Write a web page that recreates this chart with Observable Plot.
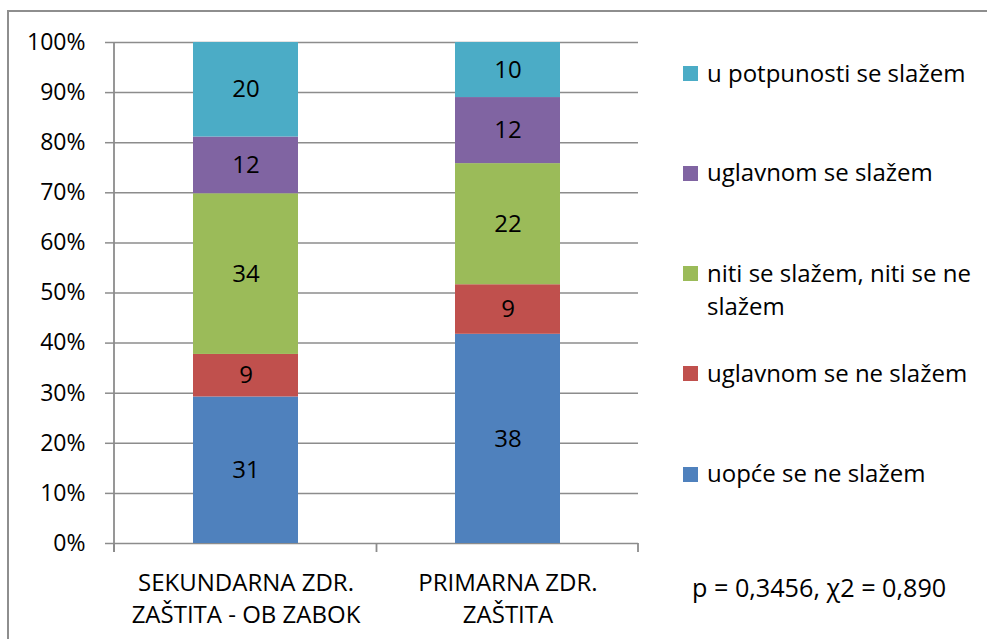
<!DOCTYPE html>
<html><head><meta charset="utf-8">
<script src="https://cdn.jsdelivr.net/npm/d3@7"></script>
<script src="https://cdn.jsdelivr.net/npm/@observablehq/plot@0.6"></script>
<style>
body{margin:0;background:#fff;font-family:"Open Sans",sans-serif;color:#000;}
#wrap{position:relative;width:987px;height:639px;overflow:hidden;background:#fff;}
#border{position:absolute;left:7px;top:10px;width:1000px;height:700px;border-top:2px solid #8e8e8e;border-left:2px solid #8e8e8e;box-sizing:border-box;}
#chart{position:absolute;left:0;top:0;}
.leg{position:absolute;left:683px;font-size:24px;line-height:33px;white-space:nowrap;}
.leg .sw{position:absolute;left:0;top:10.5px;width:15px;height:15px;}
.leg .tx{position:absolute;left:24px;top:0;}
#stat{position:absolute;left:692px;top:571px;font-size:25.2px;line-height:33px;white-space:nowrap;}
</style>
</head><body>
<div id="wrap"><div id="border"></div><div id="chart"></div><div id="legend"></div><div id="stat"></div></div>
<script>
const groups = ["SEKUNDARNA ZDR. ZAŠTITA - OB ZABOK", "PRIMARNA ZDR. ZAŠTITA"];
const tickLabels = ["SEKUNDARNA ZDR.\nZAŠTITA - OB ZABOK", "PRIMARNA ZDR.\nZAŠTITA"];
const categories = ["uopće se ne slažem", "uglavnom se ne slažem", "niti se slažem, niti se ne slažem", "uglavnom se slažem", "u potpunosti se slažem"];
const legendLabels = ["uopće se ne slažem", "uglavnom se ne slažem", "niti se slažem, niti se ne<br>slažem", "uglavnom se slažem", "u potpunosti se slažem"];
const sekundarna = [31, 9, 34, 12, 20];
const primarna = [38, 9, 22, 12, 10];
const colors = ["#4F81BD", "#C0504D", "#9BBB59", "#8064A2", "#4BACC6"];
const yTicks = [0, 0.1, 0.2, 0.3, 0.4, 0.5, 0.6, 0.7, 0.8, 0.9, 1.0];
const statText = "p = 0,3456, χ2 = 0,890";
const gridColor = "#8c8c8c";

const series = [sekundarna, primarna];
const rows = [];
groups.forEach((g, gi) => categories.forEach((c, ci) => rows.push({group: g, category: c, value: series[gi][ci]})));

function axisLines(index, scales, values, dims) {
  const x = scales.x, y = scales.y;
  const bw = typeof x.bandwidth === "function" ? x.bandwidth() : x.bandwidth;
  const left = dims.marginLeft, right = dims.width - dims.marginRight;
  const pos = [left];
  for (let i = 0; i < groups.length - 1; i++) pos.push((x(groups[i]) + bw + x(groups[i + 1])) / 2);
  pos.push(right);
  const y0 = y(0), yTop = y(1);
  const g = d3.create("svg:g").attr("stroke", gridColor).attr("stroke-width", 1.8);
  g.append("line").attr("x1", left).attr("x2", left).attr("y1", yTop).attr("y2", y0 + 9);
  for (const p of pos) g.append("line").attr("x1", p).attr("x2", p).attr("y1", y0).attr("y2", y0 + 9);
  return g.node();
}

const chart = Plot.plot({
  width: 987, height: 639,
  marginLeft: 114, marginRight: 349, marginTop: 42, marginBottom: 96,
  style: {fontFamily: "Open Sans", fontSize: "24px", background: "transparent", color: "#000", overflow: "visible"},
  x: {domain: groups, paddingInner: 0.6, paddingOuter: 0.3},
  y: {domain: [0, 1]},
  color: {domain: categories, range: colors},
  marks: [
    Plot.ruleY(yTicks, {y: d => d, stroke: gridColor, strokeWidth: 1.5}),
    Plot.barY(rows, Plot.stackY({x: "group", y: "value", fill: "category", order: categories, offset: "normalize"})),
    axisLines,
    Plot.text(rows, Plot.stackY({x: "group", y: "value", z: "category", text: "value", order: categories, offset: "normalize", fill: "#000", fontSize: 24})),
    Plot.axisY({ticks: yTicks, tickFormat: d3.format(".0%"), tickSize: 9, tickPadding: 20, stroke: gridColor, strokeWidth: 1.5, fontSize: 23, label: null}),
    Plot.axisX({tickSize: 0, tickPadding: 25, lineHeight: 1.33, fontSize: 24, tickFormat: d => tickLabels[groups.indexOf(d)], label: null})
  ]
});
document.getElementById("chart").appendChild(chart);

const centers = [474, 373.5, 273.5, 173, 73.5];
const legend = document.getElementById("legend");
categories.forEach((c, i) => {
  const item = document.createElement("div");
  item.className = "leg";
  item.style.top = (centers[i] - 18) + "px";
  item.innerHTML = `<span class="sw" style="background:${colors[i]}"></span><span class="tx">${legendLabels[i]}</span>`;
  legend.appendChild(item);
});
document.getElementById("stat").textContent = statText;
</script>
</body></html>
